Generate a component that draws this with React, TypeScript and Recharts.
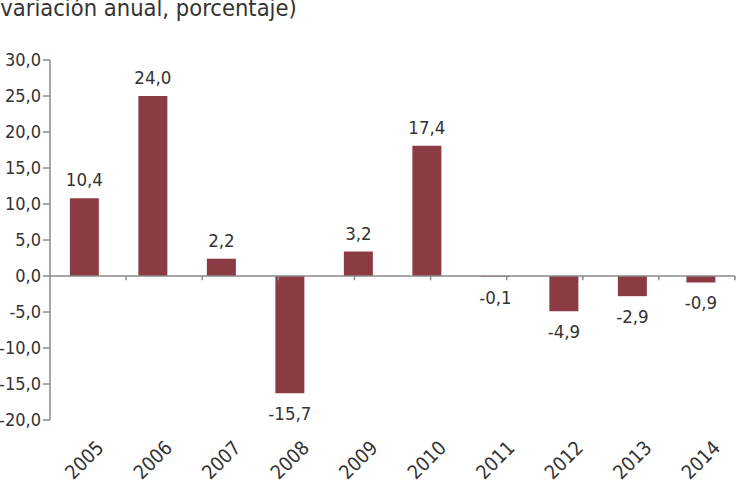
import React from 'react';
import { BarChart, Bar, XAxis, YAxis, ReferenceLine, LabelList } from 'recharts';

const years = ['2005', '2006', '2007', '2008', '2009', '2010', '2011', '2012', '2013', '2014'];
const barValues = [10.8, 25.0, 2.4, -16.3, 3.4, 18.1, -0.1, -4.9, -2.8, -0.9];
const valueLabels = ['10,4', '24,0', '2,2', '-15,7', '3,2', '17,4', '-0,1', '-4,9', '-2,9', '-0,9'];
const yTicks = [-20, -15, -10, -5, 0, 5, 10, 15, 20, 25, 30];
const boundaryTicks = [1, 2, 3, 4, 5, 6, 7, 8, 9, 10];

const FONT = "'DejaVu Sans Condensed', 'Liberation Sans Narrow', 'Liberation Sans', sans-serif";
const TEXT = '#333333';
const AXIS = '#8a8a8a';
const BAR = '#8a3b44';

const data = years.map((year, i) => ({ year, value: barValues[i], label: valueLabels[i] }));

const fmt = (v: number) => v.toFixed(1).replace('.', ',');

const renderLabel = (props: any) => {
  const { x, y, width, height, index } = props;
  const cx = Number(x) + Number(width) / 2;
  const top = Math.min(Number(y), Number(y) + Number(height));
  const bottom = Math.max(Number(y), Number(y) + Number(height));
  const v = barValues[index];
  const ty = v >= 0 ? top - 12 : bottom + 27;
  return (
    <text x={cx} y={ty} textAnchor="middle" fontSize={18.5} fill={TEXT} fontFamily={FONT}>
      {valueLabels[index]}
    </text>
  );
};

const XTick = (props: any) => {
  const { x, y, payload } = props;
  const cx = Number(x);
  const cy = Number(y) + 40;
  return (
    <text
      x={cx}
      y={cy}
      dy="0.35em"
      textAnchor="middle"
      fontSize={19.5}
      fill={TEXT}
      fontFamily={FONT}
      transform={`rotate(-45, ${cx}, ${cy})`}
    >
      {payload.value}
    </text>
  );
};

export default function App() {
  return (
    <div
      style={{
        position: 'absolute',
        left: 0,
        top: 0,
        width: 740,
        height: 492,
        overflow: 'hidden',
        background: '#ffffff',
        fontFamily: FONT,
      }}
    >
      <div
        style={{
          position: 'absolute',
          left: -8,
          top: -6,
          fontSize: 23.5,
          lineHeight: '28px',
          color: TEXT,
          whiteSpace: 'nowrap',
        }}
      >
        (variación anual, porcentaje)
      </div>
      <BarChart
        width={740}
        height={492}
        data={data}
        margin={{ top: 60, right: 5, bottom: 0, left: 0 }}
        barCategoryGap="29%"
      >
        <XAxis
          dataKey="year"
          axisLine={false}
          tickLine={false}
          tickSize={0}
          tickMargin={0}
          height={72}
          interval={0}
          tick={<XTick />}
        />
        <XAxis xAxisId="n" type="number" domain={[0, 10]} hide />
        <YAxis
          domain={[-20, 30]}
          ticks={yTicks}
          interval={0}
          width={50}
          tickFormatter={fmt}
          axisLine={{ stroke: AXIS, strokeWidth: 1.5 }}
          tickLine={{ stroke: AXIS, strokeWidth: 1.5 }}
          tickSize={7}
          tickMargin={2}
          tick={{ fontSize: 18, fill: TEXT, fontFamily: FONT }}
        />
        <ReferenceLine y={0} stroke={AXIS} strokeWidth={1.5} />
        {boundaryTicks.map((b) => (
          <ReferenceLine
            key={b}
            xAxisId="n"
            segment={[{ x: b, y: 0 }, { x: b, y: -0.6 }]}
            stroke={AXIS}
            strokeWidth={1.5}
          />
        ))}
        <Bar dataKey="value" fill={BAR} isAnimationActive={false}>
          <LabelList dataKey="label" content={renderLabel} />
        </Bar>
      </BarChart>
    </div>
  );
}
